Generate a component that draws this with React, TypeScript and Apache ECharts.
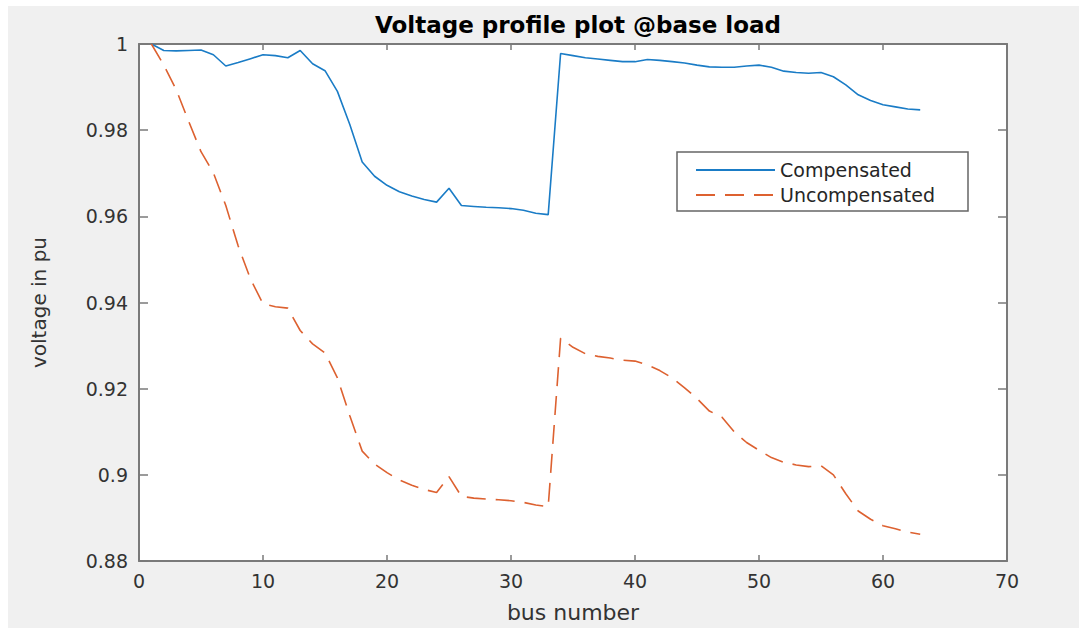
import React, { useEffect, useRef } from "react";
import * as echarts from "echarts";

const busNumbers = [
  1, 2, 3, 4, 5, 6, 7, 8, 9, 10, 11, 12, 13, 14, 15, 16, 17, 18, 19, 20, 21,
  22, 23, 24, 25, 26, 27, 28, 29, 30, 31, 32, 33, 34, 35, 36, 37, 38, 39, 40,
  41, 42, 43, 44, 45, 46, 47, 48, 49, 50, 51, 52, 53, 54, 55, 56, 57, 58, 59,
  60, 61, 62, 63,
];

const compensated = [
  1.0, 0.9985, 0.9984, 0.9985, 0.9986, 0.9975, 0.9949, 0.9957, 0.9966, 0.9975,
  0.9973, 0.9968, 0.9985, 0.9954, 0.9938, 0.989, 0.9813, 0.9726, 0.9693, 0.9672,
  0.9657, 0.9647, 0.9639, 0.9633, 0.9665, 0.9625, 0.9623, 0.9621, 0.962, 0.9618,
  0.9614, 0.9607, 0.9604, 0.9978, 0.9973, 0.9968, 0.9965, 0.9962, 0.9959, 0.9959,
  0.9964, 0.9962, 0.9959, 0.9956, 0.9951, 0.9947, 0.9946, 0.9946, 0.9949, 0.9951,
  0.9946, 0.9937, 0.9934, 0.9932, 0.9934, 0.9924, 0.9905, 0.9882, 0.9869, 0.9859,
  0.9854, 0.9849, 0.9847,
];

const uncompensated = [
  1.0, 0.9951, 0.9894, 0.9821, 0.975, 0.9701, 0.9625, 0.9531, 0.9454, 0.9397,
  0.939, 0.9387, 0.9335, 0.9304, 0.9283, 0.9225, 0.9137, 0.9055, 0.9025, 0.9005,
  0.8988, 0.8976, 0.8966, 0.8959, 0.8996, 0.895, 0.8946, 0.8944, 0.8942, 0.894,
  0.8936, 0.893, 0.8926, 0.9317, 0.9296, 0.9281, 0.9275, 0.9271, 0.9266, 0.9264,
  0.9255, 0.9242, 0.9225, 0.9202, 0.9177, 0.9148, 0.9134, 0.91, 0.9075, 0.9057,
  0.904, 0.9029, 0.9023, 0.9019, 0.9021, 0.9, 0.8956, 0.8916, 0.8897, 0.8882,
  0.8875, 0.8867, 0.8862,
];

const seriesNames = ["Compensated", "Uncompensated"];
const titleText = "Voltage profile plot @base load";
const xAxisName = "bus number";
const yAxisName = "voltage in pu";

const FONT = "'DejaVu Sans', sans-serif";
const AXIS_COLOR = "#7a7a7a";
const LABEL_COLOR = "#333333";
const BLUE = "#1a7cc6";
const ORANGE = "#dd6130";

export default function App() {
  const ref = useRef<HTMLDivElement>(null);

  useEffect(() => {
    document.body.style.margin = "0";
    if (!ref.current) return;
    const chart = echarts.init(ref.current, undefined, { renderer: "svg" });

    const toPairs = (vals: number[]) => busNumbers.map((b, i) => [b, vals[i]]);

    const commonX = {
      type: "value" as const,
      min: 0,
      max: 70,
      interval: 10,
      splitLine: { show: false },
      axisLine: { show: true, onZero: false, lineStyle: { color: AXIS_COLOR, width: 2 } },
      axisTick: { show: true, inside: true, length: 6, lineStyle: { color: AXIS_COLOR, width: 1.5 } },
    };
    const commonY = {
      type: "value" as const,
      min: 0.88,
      max: 1,
      interval: 0.02,
      splitLine: { show: false },
      axisLine: { show: true, onZero: false, lineStyle: { color: AXIS_COLOR, width: 2 } },
      axisTick: { show: true, inside: true, length: 9, lineStyle: { color: AXIS_COLOR, width: 1.5 } },
    };

    chart.setOption({
      animation: false,
      backgroundColor: "#ffffff",
      textStyle: { fontFamily: FONT },
      title: {
        text: titleText,
        left: 573,
        top: 8,
        textAlign: "center",
        textStyle: { fontFamily: FONT, fontSize: 23, fontWeight: "bold", color: "#000" },
      },
      graphic: [
        {
          type: "rect",
          z: -100,
          silent: true,
          shape: { x: 8, y: 6, width: 1071, height: 622 },
          style: { fill: "#f0f0f0" },
        },
        {
          type: "rect",
          z: 100,
          silent: true,
          shape: { x: 677, y: 152, width: 291, height: 59 },
          style: { fill: "rgba(0,0,0,0)", stroke: "#666666", lineWidth: 1.5 },
        },
      ],
      grid: {
        left: 139,
        right: 72,
        top: 44,
        bottom: 65,
        show: true,
        backgroundColor: "#ffffff",
        borderWidth: 0,
      },
      legend: {
        orient: "vertical",
        left: 677,
        top: 152,
        padding: [8, 10, 6, 18],
        itemWidth: 79,
        itemHeight: 14,
        itemGap: 5,
        borderWidth: 0,
        itemStyle: { opacity: 0 },
        textStyle: {
          fontFamily: FONT,
          fontSize: 19,
          lineHeight: 20,
          color: "#262626",
        },
        data: seriesNames,
      },
      xAxis: [
        {
          ...commonX,
          position: "bottom",
          name: xAxisName,
          nameLocation: "middle",
          nameGap: 40,
          nameTextStyle: { fontFamily: FONT, fontSize: 22, color: LABEL_COLOR },
          axisLabel: { show: true, margin: 10, fontFamily: FONT, fontSize: 19, color: LABEL_COLOR },
        },
        {
          ...commonX,
          position: "top",
          axisLabel: { show: false },
        },
      ],
      yAxis: [
        {
          ...commonY,
          position: "left",
          name: yAxisName,
          nameLocation: "middle",
          nameGap: 90,
          nameTextStyle: { fontFamily: FONT, fontSize: 20, color: LABEL_COLOR },
          axisLabel: { show: true, margin: 11, fontFamily: FONT, fontSize: 19, color: LABEL_COLOR },
        },
        {
          ...commonY,
          position: "right",
          axisLabel: { show: false },
        },
      ],
      series: [
        {
          name: seriesNames[0],
          type: "line",
          xAxisIndex: 0,
          yAxisIndex: 0,
          data: toPairs(compensated),
          showSymbol: false,
          symbol: "none",
          lineStyle: { color: BLUE, width: 1.6 },
          itemStyle: { color: BLUE },
          z: 3,
        },
        {
          name: seriesNames[1],
          type: "line",
          xAxisIndex: 0,
          yAxisIndex: 0,
          data: toPairs(uncompensated),
          showSymbol: false,
          symbol: "none",
          lineStyle: { color: ORANGE, width: 1.6, type: [19, 10] },
          itemStyle: { color: ORANGE },
          z: 3,
        },
      ],
    });

    return () => {
      chart.dispose();
    };
  }, []);

  return <div ref={ref} style={{ width: 1079, height: 628 }} />;
}
